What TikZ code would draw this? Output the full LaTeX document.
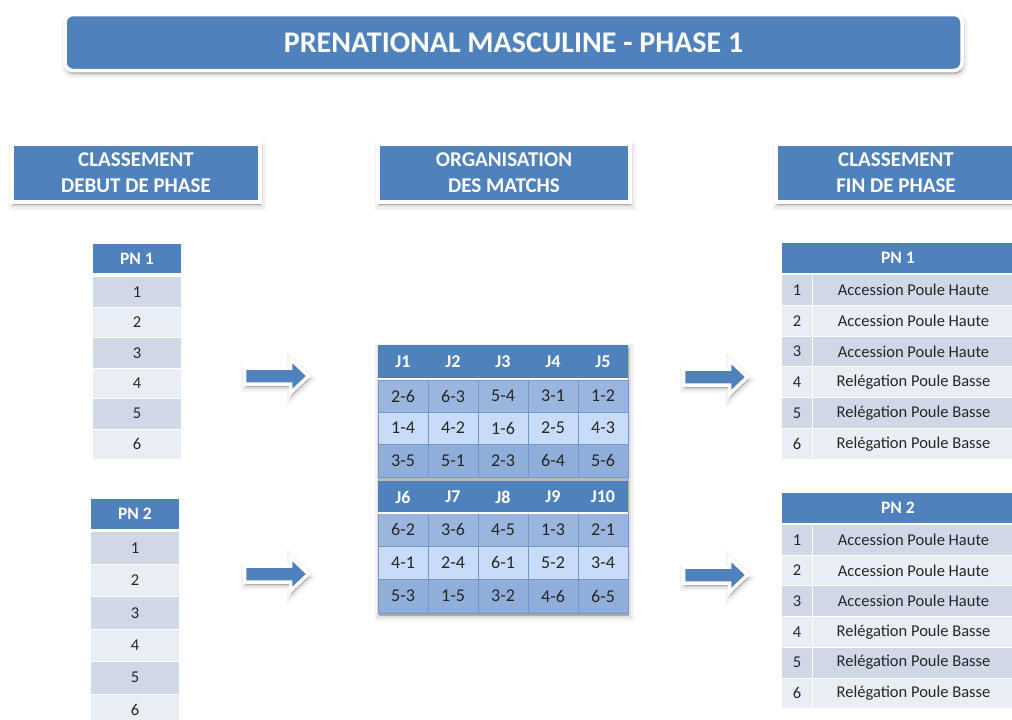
\documentclass[tikz,border=0pt]{standalone}
\usepackage{fontspec}
\setmainfont{Carlito}
\usetikzlibrary{shadows}
\definecolor{hdr}{HTML}{4F81BD}
\definecolor{rowA}{HTML}{D0D8E8}
\definecolor{rowB}{HTML}{E9EDF4}
\definecolor{mA}{HTML}{9AB6DE}
\definecolor{mB}{HTML}{C8DBF8}
\definecolor{mC}{HTML}{8FAEDA}
\definecolor{mline}{HTML}{7497CA}
\definecolor{txt}{HTML}{262626}
\tikzset{
  shad/.style={
    general shadow={fill=black, fill opacity=0.12, draw=black, draw opacity=0.05,
      line width=9pt, shadow xshift=1pt, shadow yshift=-3pt},
    general shadow={fill=black, fill opacity=0.12, draw=black, draw opacity=0.08,
      line width=4pt, shadow xshift=1pt, shadow yshift=-3pt}},
  titlebox/.style={fill=hdr, draw=white, line width=3.5pt, rounded corners=8pt, shad,
    minimum width=897, minimum height=56, text=white, font=\fontsize{30}{34}\selectfont\bfseries},
  headbox/.style={fill=hdr, draw=white, line width=3.5pt, shad, align=center,
    minimum height=58, text=white, font=\fontsize{21}{26}\selectfont\bfseries},
  thdr/.style={fill=hdr, inner sep=0pt, text=white, font=\fontsize{17.5}{20}\selectfont\bfseries},
  tcell/.style={inner sep=0pt, text=txt, font=\fontsize{16.5}{19}\selectfont},
  mcell/.style={inner sep=0pt, draw=mline, line width=0.8pt, text=txt,
    minimum width=50, font=\fontsize{18}{21}\selectfont},
  mhdr/.style={inner sep=0pt, fill=hdr, text=white, minimum width=50,
    font=\fontsize{18}{21}\selectfont\bfseries},
  barrow/.pic={
    \draw[fill=hdr, draw=white, line width=3.5pt, line join=miter, shad]
      (-32,-8) -- (14,-8) -- (14,-17) -- (32,0) -- (14,17) -- (14,8) -- (-32,8) -- cycle;
  }
}
\begin{document}
\begin{tikzpicture}[x=1pt,y=-1pt]
\useasboundingbox (0,0) rectangle (1012,720);
\fill[white] (0,0) rectangle (1012,720);
\clip (0,0) rectangle (1012,720);

% title
\node[titlebox] (title) at (513.5,42.5) {PRENATIONAL MASCULINE - PHASE 1};

% section headers
\node[headbox, minimum width=248] (hdeb) at (136,173) {CLASSEMENT\\DEBUT DE PHASE};
\node[headbox, minimum width=252] (horg) at (504,173) {ORGANISATION\\DES MATCHS};
\node[headbox, minimum width=240] (hfin) at (896,173) {CLASSEMENT\\FIN DE PHASE};

% left table PN 1
\node[thdr, minimum width=88, minimum height=29] (L1h) at (137,258.5) {PN 1};
\foreach \i/\c in {1/rowA,2/rowB,3/rowA,4/rowB,5/rowA,6/rowB}{
  \node[tcell, fill=\c, minimum width=88, minimum height=29.5] (L1r\i)
    at (137,{277+30.5*(\i-1)+14.75}) {\i};
}
% left table PN 2
\node[thdr, minimum width=88, minimum height=30] (L2h) at (135,514) {PN 2};
\foreach \i/\c in {1/rowA,2/rowB,3/rowA,4/rowB,5/rowA,6/rowB}{
  \node[tcell, fill=\c, minimum width=88, minimum height=31.5] (L2r\i)
    at (135,{532+32.5*(\i-1)+15.75}) {\i};
}

% arrows
\pic at (276.5,376) {barrow};
\pic at (276.5,574) {barrow};
\pic at (715.5,377) {barrow};
\pic at (715.5,575) {barrow};

% middle table
\fill[mline, shad] (378,345) rectangle (628,613);
\fill[gray!55] (378,477) rectangle (628,481);
\foreach \j in {1,...,5}{
  \node[mhdr, minimum height=34] (M0c\j) at ({353+50*\j},362) {J\j};
}
\foreach \j/\t in {1/2-6,2/6-3,3/5-4,4/3-1,5/1-2}{
  \node[mcell, fill=mA, minimum height=32] (M1c\j) at ({353+50*\j},396) {\t};}
\foreach \j/\t in {1/1-4,2/4-2,3/1-6,4/2-5,5/4-3}{
  \node[mcell, fill=mB, minimum height=32] (M2c\j) at ({353+50*\j},428) {\t};}
\foreach \j/\t in {1/3-5,2/5-1,3/2-3,4/6-4,5/5-6}{
  \node[mcell, fill=mC, minimum height=33] (M3c\j) at ({353+50*\j},460.5) {\t};}
\foreach \j/\t in {1/J6,2/J7,3/J8,4/J9,5/J10}{
  \node[mhdr, minimum height=32] (M4c\j) at ({353+50*\j},497) {\t};
}
\foreach \j/\t in {1/6-2,2/3-6,3/4-5,4/1-3,5/2-1}{
  \node[mcell, fill=mA, minimum height=33] (M5c\j) at ({353+50*\j},529.5) {\t};}
\foreach \j/\t in {1/4-1,2/2-4,3/6-1,4/5-2,5/3-4}{
  \node[mcell, fill=mB, minimum height=33] (M6c\j) at ({353+50*\j},562.5) {\t};}
\foreach \j/\t in {1/5-3,2/1-5,3/3-2,4/4-6,5/6-5}{
  \node[mcell, fill=mC, minimum height=34] (M7c\j) at ({353+50*\j},596) {\t};}
\draw[white, line width=2pt] (M0c1.south west) -- (M0c5.south east);
\draw[white, line width=2pt] (M4c1.south west) -- (M4c5.south east);

% right table PN 1
\node[thdr, minimum width=232, minimum height=30] (R1h) at (898,258) {PN 1};
\foreach \i/\c/\t in {1/rowA/Accession Poule Haute,2/rowB/Accession Poule Haute,3/rowA/Accession Poule Haute,
  4/rowB/Relégation Poule Basse,5/rowA/Relégation Poule Basse,6/rowB/Relégation Poule Basse}{
  \node[tcell, fill=\c, minimum width=30, minimum height=29.8] (R1n\i)
    at (797,{275+30.8*(\i-1)+14.9}) {\i};
  \node[tcell, fill=\c, minimum width=201, minimum height=29.8] (R1t\i)
    at (913.5,{275+30.8*(\i-1)+14.9}) {\t};
}
% right table PN 2
\node[thdr, minimum width=232, minimum height=30] (R2h) at (898,508) {PN 2};
\foreach \i/\c/\t in {1/rowA/Accession Poule Haute,2/rowB/Accession Poule Haute,3/rowA/Accession Poule Haute,
  4/rowB/Relégation Poule Basse,5/rowA/Relégation Poule Basse,6/rowB/Relégation Poule Basse}{
  \node[tcell, fill=\c, minimum width=30, minimum height=29.7] (R2n\i)
    at (797,{525+30.7*(\i-1)+14.85}) {\i};
  \node[tcell, fill=\c, minimum width=201, minimum height=29.7] (R2t\i)
    at (913.5,{525+30.7*(\i-1)+14.85}) {\t};
}
\end{tikzpicture}
\end{document}
